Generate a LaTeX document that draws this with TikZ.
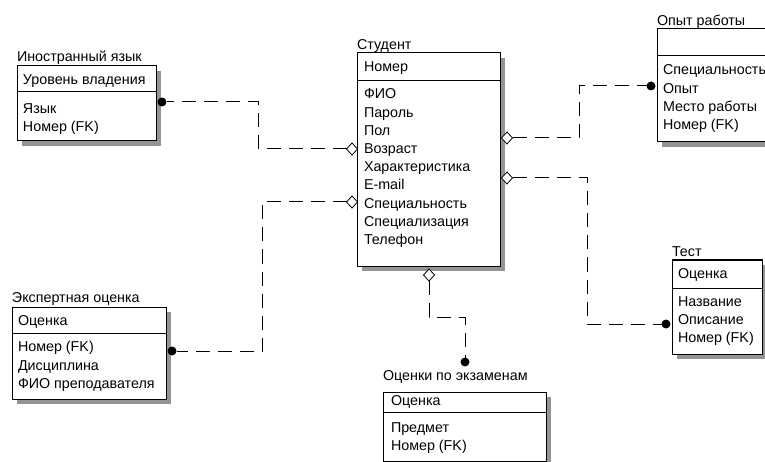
\documentclass[tikz,border=0pt]{standalone}
\usepackage{fontspec}
\setmainfont{Liberation Sans}
\usetikzlibrary{shapes.geometric}
\begin{document}
\begin{tikzpicture}[x=1pt,y=-1pt,
  font=\fontsize{14.3}{18}\selectfont,
  ent/.style={draw=black, line width=1pt, fill=white, anchor=north west, inner sep=0pt, outer sep=0pt},
  shad/.style={fill=black!42},
  divl/.style={line width=1pt},
  txt/.style={anchor=base west, inner sep=0pt, outer sep=0pt, text=black},
  conn/.style={line width=1pt, dash pattern=on 14pt off 8pt},
  dotk/.style={circle, fill=black, minimum size=9pt, inner sep=0pt, outer sep=0pt},
  dia/.style={diamond, draw=black, fill=white, line width=0.8pt, minimum width=11pt, minimum height=12pt, inner sep=0pt, outer sep=0pt}]

\clip (0,0) rectangle (765,462);
\fill[white] (0,0) rectangle (765,462);

% ---------- Иностранный язык ----------
\fill[shad] (22,71) rectangle (161,146);
\node[ent, minimum width=139pt, minimum height=75pt] (lang) at (17,66) {};
\draw[divl] (lang.west |- 0,92) -- (lang.east |- 0,92);
\node[txt] (langT) at (17,62) {Иностранный язык};
\node[txt] (lang1) at (23,85) {Уровень владения};
\node[txt] (lang2) at (23,114) {Язык};
\node[txt] (lang3) at (23,132) {Номер (FK)};

% ---------- Студент ----------
\fill[shad] (362,58) rectangle (505,271);
\node[ent, minimum width=143pt, minimum height=213pt] (stud) at (357,53) {};
\draw[divl] (stud.west |- 0,81) -- (stud.east |- 0,81);
\node[txt] (studT) at (357,50) {Студент};
\node[txt] (stud0) at (364,72) {Номер};
\node[txt] (stud1) at (364,99) {ФИО};
\node[txt] (stud2) at (364,117.2) {Пароль};
\node[txt] (stud3) at (364,135.4) {Пол};
\node[txt] (stud4) at (364,153.6) {Возраст};
\node[txt] (stud5) at (364,171.8) {Характеристика};
\node[txt] (stud6) at (364,190) {E-mail};
\node[txt] (stud7) at (364,208.2) {Специальность};
\node[txt] (stud8) at (364,226.4) {Специализация};
\node[txt] (stud9) at (364,244.6) {Телефон};

% ---------- Опыт работы ----------
\fill[shad] (662,34) rectangle (790,147);
\node[ent, minimum width=120pt, minimum height=113pt] (exp) at (657,29) {};
\draw[divl] (exp.west |- 0,56) -- (exp.east |- 0,56);
\node[txt] (expT) at (657,26) {Опыт работы};
\node[txt] (exp1) at (663,75) {Специальность};
\node[txt] (exp2) at (663,93.3) {Опыт};
\node[txt] (exp3) at (663,111.6) {Место работы};
\node[txt] (exp4) at (663,129.9) {Номер (FK)};

% ---------- Экспертная оценка ----------
\fill[shad] (17,312) rectangle (171,404);
\node[ent, minimum width=154pt, minimum height=92pt] (expert) at (12,307) {};
\draw[divl] (expert.west |- 0,333) -- (expert.east |- 0,333);
\node[txt] (expertT) at (12,302) {Экспертная оценка};
\node[txt] (expert0) at (18,325) {Оценка};
\node[txt] (expert1) at (18,351.7) {Номер (FK)};
\node[txt] (expert2) at (18,370) {Дисциплина};
\node[txt] (expert3) at (18,388.3) {ФИО преподавателя};

% ---------- Тест ----------
\fill[shad] (677,265) rectangle (767,359);
\node[ent, minimum width=90pt, minimum height=94pt] (test) at (672,260) {};
\draw[divl] (test.west |- 0,288) -- (test.east |- 0,288);
\node[txt] (testT) at (672,256) {Тест};
\node[txt] (test0) at (678,278.3) {Оценка};
\node[txt] (test1) at (678,306) {Название};
\node[txt] (test2) at (678,324.3) {Описание};
\node[txt] (test3) at (678,342.7) {Номер (FK)};

% ---------- Оценки по экзаменам ----------
\fill[shad] (388,397) rectangle (551,480);
\node[ent, minimum width=163pt, minimum height=69pt] (exam) at (383,392) {};
\draw[divl] (exam.west |- 0,412) -- (exam.east |- 0,412);
\node[txt] (examT) at (383,380) {Оценки по экзаменам};
\node[txt] (exam0) at (391,405) {Оценка};
\node[txt] (exam1) at (391,432) {Предмет};
\node[txt] (exam2) at (391,450) {Номер (FK)};

% ---------- relationship ends ----------
\node[dia] (sL1) at (352,149) {};
\node[dia] (sL2) at (352,202) {};
\node[dia] (sR1) at (507,138) {};
\node[dia] (sR2) at (507,178) {};
\node[dia] (sB) at (429,275) {};

\node[dotk] (dIn) at (162,102) {};
\node[dotk] (dOp) at (651,86) {};
\node[dotk] (dEx) at (172,351) {};
\node[dotk] (dTe) at (666,324) {};
\node[dotk] (dOc) at (465,362) {};

% ---------- connectors ----------
\coordinate (c1) at (258,102);
\coordinate (c2) at (262,351);
\coordinate (c3) at (579,138);
\coordinate (c4) at (587,178);
\coordinate (c5a) at (429,317);
\coordinate (c5b) at (465,317);

\draw[conn] (sL1.west) -| (c1) -- (dIn.east);
\draw[conn] (sL2.west) -| (c2) -- (dEx.east);
\draw[conn] (sR1.east) -- (c3) |- (dOp.west);
\draw[conn] (sR2.east) -- (c4) |- (dTe.west);
\draw[conn] (sB.south) -- (c5a) -- (c5b) -- (dOc.north);
\end{tikzpicture}
\end{document}
